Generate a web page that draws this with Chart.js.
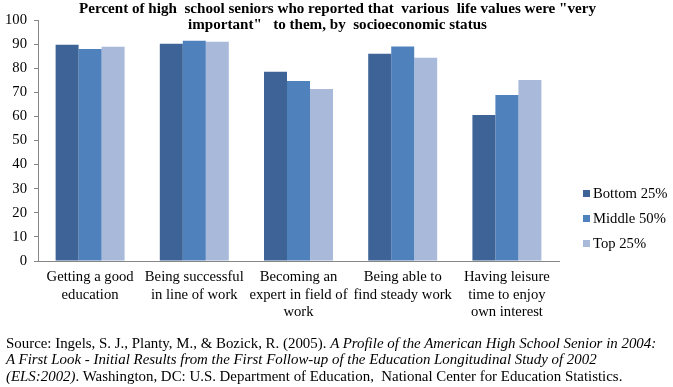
<!DOCTYPE html>
<html>
<head>
<meta charset="utf-8">
<script src="https://cdn.jsdelivr.net/npm/chart.js@4/dist/chart.umd.min.js"></script>
<style>
  html, body { margin: 0; padding: 0; background: #fff; }
  #wrap { position: relative; width: 673px; height: 387px; overflow: hidden; font-family: "Liberation Serif", "Times New Roman", serif; color: #000; }
  #c { position: absolute; left: 0; top: 0; }
  #title { position: absolute; left: 0; width: 675px; top: 0; text-align: center; font-weight: bold; font-size: 15.1px; line-height: 16px; white-space: pre; }
  #legend { position: absolute; left: 583px; top: 181px; font-size: 14.67px; }
  .li { height: 25px; line-height: 25px; white-space: nowrap; }
  .sw { display: inline-block; width: 7px; height: 7px; margin-right: 3px; vertical-align: 1px; }
  #source { position: absolute; left: 6px; top: 334.5px; font-size: 14.9px; line-height: 16.5px; white-space: pre; }
</style>
</head>
<body>
<div id="wrap">
  <canvas id="c" width="673" height="387"></canvas>
  <div id="title">Percent of high  school seniors who reported that  various  life values were "very
important"   to them, by  socioeconomic status</div>
  <div id="legend"></div>
  <div id="source">Source: Ingels, S. J., Planty, M., &amp; Bozick, R. (2005). <i>A Profile of the American High School Senior in 2004:</i>
<i>A First Look - Initial Results from the First Follow-up of the Education Longitudinal Study of 2002</i>
<i>(ELS:2002)</i>. Washington, DC: U.S. Department of Education,  National Center for Education Statistics.</div>
</div>
<script>
const categories = [
  ["Getting a good", "education"],
  ["Being successful", "in line of work"],
  ["Becoming an", "expert in field of", "work"],
  ["Being able to", "find steady work"],
  ["Having leisure", "time to enjoy", "own interest"]
];
const seriesNames = ["Bottom 25%", "Middle 50%", "Top 25%"];
const bottom25 = [89.7, 90.1, 78.5, 86.0, 60.6];
const middle50 = [88.0, 91.4, 74.7, 89.0, 68.9];
const top25 = [88.9, 91.0, 71.4, 84.3, 75.1];
const seriesColors = ["#3E6497", "#4F81BD", "#A8B9DA"];
const yTicks = [0, 10, 20, 30, 40, 50, 60, 70, 80, 90, 100];

const font = { family: "'Liberation Serif', 'Times New Roman', serif", size: 14.67 };
const seriesValues = [bottom25, middle50, top25];

const chart = new Chart(document.getElementById('c'), {
  type: 'bar',
  data: {
    labels: categories,
    datasets: seriesValues.map((vals, i) => ({
      label: seriesNames[i],
      data: vals,
      backgroundColor: seriesColors[i],
      borderWidth: 0,
      categoryPercentage: 0.662,
      barPercentage: 1.0
    }))
  },
  options: {
    responsive: false,
    animation: false,
    devicePixelRatio: 1,
    layout: { padding: { top: 20, right: 114, left: 0, bottom: 0 } },
    plugins: { legend: { display: false }, title: { display: false }, tooltip: { enabled: false } },
    scales: {
      x: {
        afterFit: (s) => { s.height = 126; },
        grid: { display: true, drawOnChartArea: false, drawTicks: false },
        border: { display: true, color: '#868686', width: 1 },
        ticks: { font: { ...font, lineHeight: 1.17 }, color: '#000', padding: 8, maxRotation: 0, autoSkip: false }
      },
      y: {
        min: 0, max: 100,
        afterFit: (s) => { s.width = 38; },
        afterBuildTicks: (s) => { s.ticks = yTicks.map(v => ({ value: v })); },
        grid: { display: true, drawOnChartArea: false, drawTicks: true, tickLength: 4, color: '#868686' },
        border: { display: true, color: '#868686', width: 1 },
        ticks: { font: font, color: '#000', padding: 7 }
      }
    }
  }
});

const leg = document.getElementById('legend');
chart.data.datasets.forEach(ds => {
  const d = document.createElement('div');
  d.className = 'li';
  const sw = document.createElement('span');
  sw.className = 'sw';
  sw.style.background = ds.backgroundColor;
  d.appendChild(sw);
  d.appendChild(document.createTextNode(ds.label));
  leg.appendChild(d);
});
</script>
</body>
</html>
